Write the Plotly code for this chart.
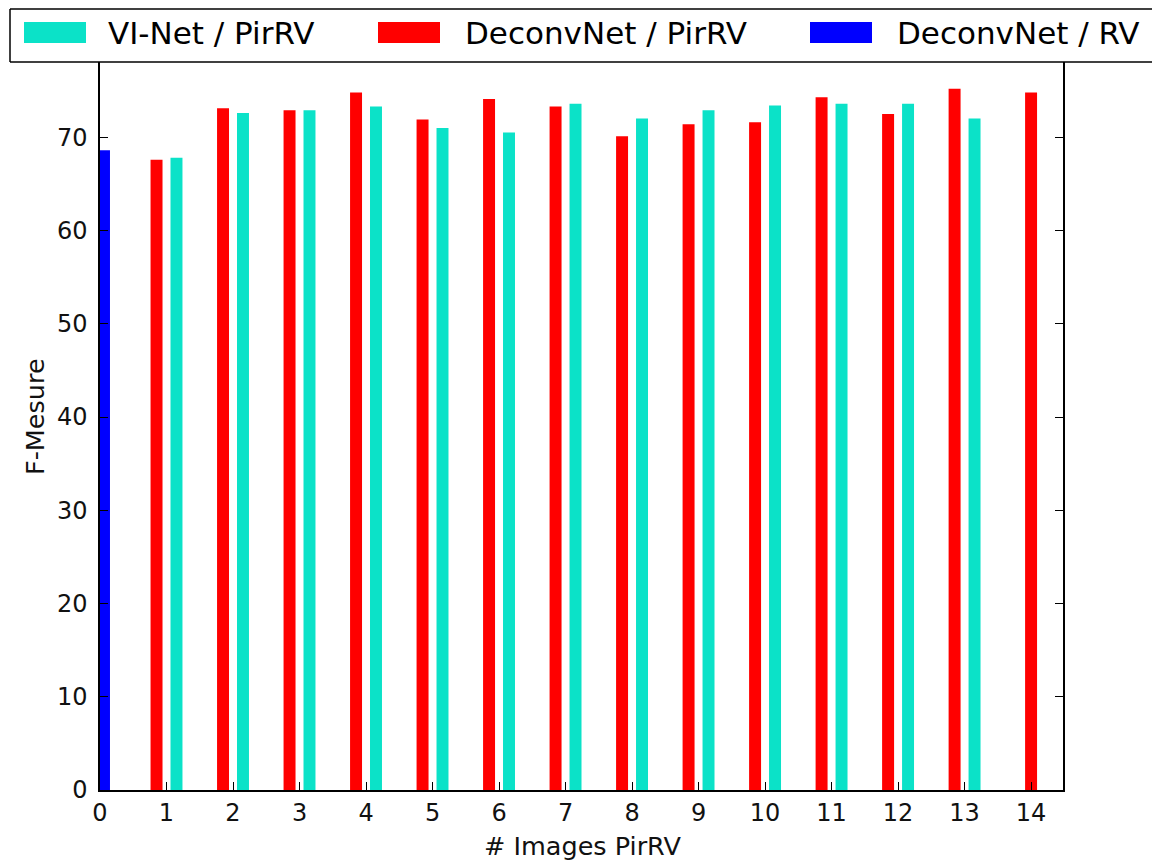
import plotly.graph_objects as go

# ---- data ----
images = list(range(1, 15))
vinet_images = list(range(1, 14))
vinet_pirrv = [67.8, 72.6, 72.9, 73.3, 71.0, 70.5, 73.6, 72.0, 72.9, 73.4, 73.6, 73.6, 72.0]
deconv_pirrv = [67.6, 73.1, 72.9, 74.8, 71.9, 74.1, 73.3, 70.1, 71.4, 71.6, 74.3, 72.5, 75.2, 74.8]
deconv_rv_x = [0]
deconv_rv = [68.6]
x_ticks = list(range(0, 15))
y_ticks = list(range(0, 80, 10))
names = ["VI-Net / PirRV", "DeconvNet / PirRV", "DeconvNet / RV"]
colors = ["#0BE2C8", "#FF0000", "#0000FF"]

# ---- geometry (body margin removed by post_script, so figure == screen) ----
W, H = 1152, 863
ML, MT = 100, 44
PW, PH = 963, 746
MR, MB = W - ML - PW, H - MT - PH
FONT = "DejaVu Sans"

def px(x):  # screen pixel -> paper
    return (x - ML) / PW

def py(y):
    return (MT + PH - y) / PH

bw = 0.18
deconv_x = [i - 0.15 for i in images[:-1]] + [images[-1]]
vinet_x = [i + 0.15 for i in vinet_images]

fig = go.Figure()
fig.add_trace(go.Bar(x=vinet_x, y=vinet_pirrv, width=bw, marker=dict(color=colors[0], line=dict(width=0)),
                     name=names[0], showlegend=False))
fig.add_trace(go.Bar(x=deconv_x, y=deconv_pirrv, width=bw, marker=dict(color=colors[1], line=dict(width=0)),
                     name=names[1], showlegend=False))
fig.add_trace(go.Bar(x=deconv_rv_x, y=deconv_rv, width=0.3, marker=dict(color=colors[2], line=dict(width=0)),
                     name=names[2], showlegend=False))

axis_common = dict(showgrid=False, zeroline=False, showline=True, linecolor="black", linewidth=1.5,
                   ticks="inside", ticklen=8, tickwidth=1, tickcolor="black",
                   tickfont=dict(family=FONT, size=24, color="#111"))
fig.update_layout(
    width=W, height=H,
    margin=dict(l=ML, r=MR, t=MT, b=MB, pad=0),
    plot_bgcolor="white", paper_bgcolor="white",
    barmode="overlay",
    xaxis=dict(range=[0, 14.48], tickvals=x_ticks, mirror=True, **axis_common),
    yaxis=dict(range=[0, 80], tickvals=y_ticks, mirror="ticks", ticklabelstandoff=6, **axis_common),
)

shapes = []
annotations = []
# legend frame: white box, border on top/left/bottom only (it runs past the right edge)
LX0, LX1, LY0, LY1 = 10, 1200, 9, 62
shapes.append(dict(type="rect", xref="paper", yref="paper", x0=px(LX0), x1=px(LX1), y0=py(LY1), y1=py(LY0),
                   line=dict(width=0), fillcolor="white", layer="above"))
for (a, b, c, d) in [(LX0, LY0, LX1, LY0), (LX0, LY1, LX1, LY1), (LX0, LY0, LX0, LY1)]:
    shapes.append(dict(type="line", xref="paper", yref="paper", x0=px(a), y0=py(b), x1=px(c), y1=py(d),
                       line=dict(color="black", width=1.5), layer="above"))
patch_x = [24, 378, 810]
text_x = [106, 463, 895]
for name, col, x0, tx in zip(names, colors, patch_x, text_x):
    shapes.append(dict(type="rect", xref="paper", yref="paper", x0=px(x0), x1=px(x0 + 62), y0=py(43), y1=py(22),
                       line=dict(width=0), fillcolor=col, layer="above"))
    annotations.append(dict(text=name, xref="paper", yref="paper", x=px(tx), y=py(33), xanchor="left",
                            yanchor="middle", showarrow=False, font=dict(family=FONT, size=31, color="black")))

annotations.append(dict(text="# Images PirRV", xref="paper", yref="paper", x=px(582), y=py(846),
                        xanchor="center", yanchor="middle", showarrow=False,
                        font=dict(family=FONT, size=25.5, color="#111")))
annotations.append(dict(text="F-Mesure", xref="paper", yref="paper", x=px(35), y=py(417),
                        xanchor="center", yanchor="middle", textangle=-90, showarrow=False,
                        font=dict(family=FONT, size=25.5, color="#111")))
fig.update_layout(shapes=shapes, annotations=annotations)

fig.write_html("out.html", config={"displayModeBar": False},
               post_script="document.body.style.margin='0';document.body.style.overflow='hidden';")
